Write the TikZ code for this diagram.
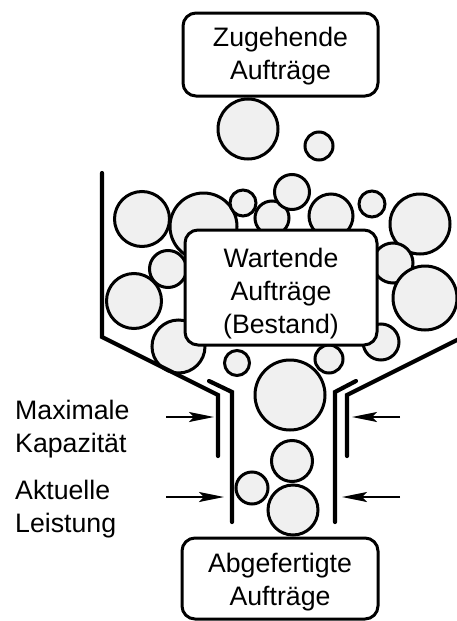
\documentclass[tikz,border=0pt]{standalone}
\usepackage{fontspec}
\setmainfont{Liberation Sans}
\usetikzlibrary{arrows.meta}
\definecolor{ballfill}{HTML}{F0F0F0}
\begin{document}
\begin{tikzpicture}[x=1pt,y=-1pt,
  every node/.style={font=\fontsize{26.7}{33}\selectfont, inner sep=0pt},
  box/.style={draw, line width=3pt, rounded corners=13pt, fill=white},
  boxtext/.style={align=center},
  ball/.style={draw, line width=3pt, fill=ballfill},
  wall/.style={line width=4.2pt, line cap=round, line join=miter},
  push/.style={line width=2pt, -{Stealth[length=25pt,width=10pt,inset=5pt]}},
  lbl/.style={align=left, anchor=west}]
\useasboundingbox (0,0) rectangle (457,621);

% orders arriving above the hopper
\foreach \x/\y/\r in {248/129/30, 319/146/14}
  \draw[ball] (\x,\y) circle (\r);

% waiting orders inside the hopper
\foreach \x/\y/\r in {142/219/27.5, 203.5/226.5/33.5, 243/203/13, 272/218/17,
    292/192/17.5, 331/216/22, 372/204/13, 420/224/30, 168/269/18.5,
    134/301/27.5, 178.5/346.5/26.5, 393/263/20, 425/298/32, 381/342/18,
    237/363/12.5, 329/359/14, 290/395/35}
  \draw[ball] (\x,\y) circle (\r);

% orders passing through the outlet
\foreach \x/\y/\r in {292/461/20.5, 252/488/16, 293/510/25}
  \draw[ball] (\x,\y) circle (\r);

% boxes and their captions
\node[box, minimum width=195pt, minimum height=83pt] (in) at (280.5,54.5) {};
\node[boxtext, yshift=-2pt] (intext) at (in.center) {Zugehende\\Aufträge};
\node[box, minimum width=192pt, minimum height=115pt] (wip) at (281,287.5) {};
\node[boxtext, yshift=-6pt] (wiptext) at (wip.center) {Wartende\\Aufträge\\(Bestand)};
\node[box, minimum width=196pt, minimum height=81pt] (out) at (280,578.5) {};
\node[boxtext, yshift=-4pt] (outtext) at (out.center) {Abgefertigte\\Aufträge};

% hopper: outer walls (maximum capacity)
\coordinate (oltop) at (102,173);
\coordinate (olbend) at (102,337);
\coordinate (olneck) at (218,395);
\coordinate (olend) at (218,456);
\coordinate (ortop) at (463,337);
\coordinate (orneck) at (347,395);
\coordinate (orend) at (347,456);
\begin{scope}
  \clip (0,0) rectangle (457,621);
  \draw[wall] (oltop) -- (olbend) -- (olneck) -- (olend);
  \draw[wall] (ortop) -- (orneck) -- (orend);
\end{scope}

% inner walls (current output)
\coordinate (iltop) at (209,381);
\coordinate (ilneck) at (232,392);
\coordinate (ilend) at (232,522);
\coordinate (irtop) at (356,381);
\coordinate (irneck) at (335,392);
\coordinate (irend) at (335,522);
\draw[wall] (iltop) -- (ilneck) -- (ilend);
\draw[wall] (irtop) -- (irneck) -- (irend);

% labels and arrows
\node[lbl] (cap) at (15,429) {Maximale\\Kapazität};
\node[lbl] (act) at (15,509) {Aktuelle\\Leistung};

\coordinate (capL) at (166,417);
\coordinate (capLt) at (214,417);
\coordinate (capR) at (400,417);
\coordinate (capRt) at (352,417);
\coordinate (actL) at (166,497);
\coordinate (actLt) at (224,497);
\coordinate (actR) at (400,497);
\coordinate (actRt) at (342,497);
\draw[push] (capL) -- (capLt);
\draw[push] (capR) -- (capRt);
\draw[push] (actL) -- (actLt);
\draw[push] (actR) -- (actRt);
\end{tikzpicture}
\end{document}
